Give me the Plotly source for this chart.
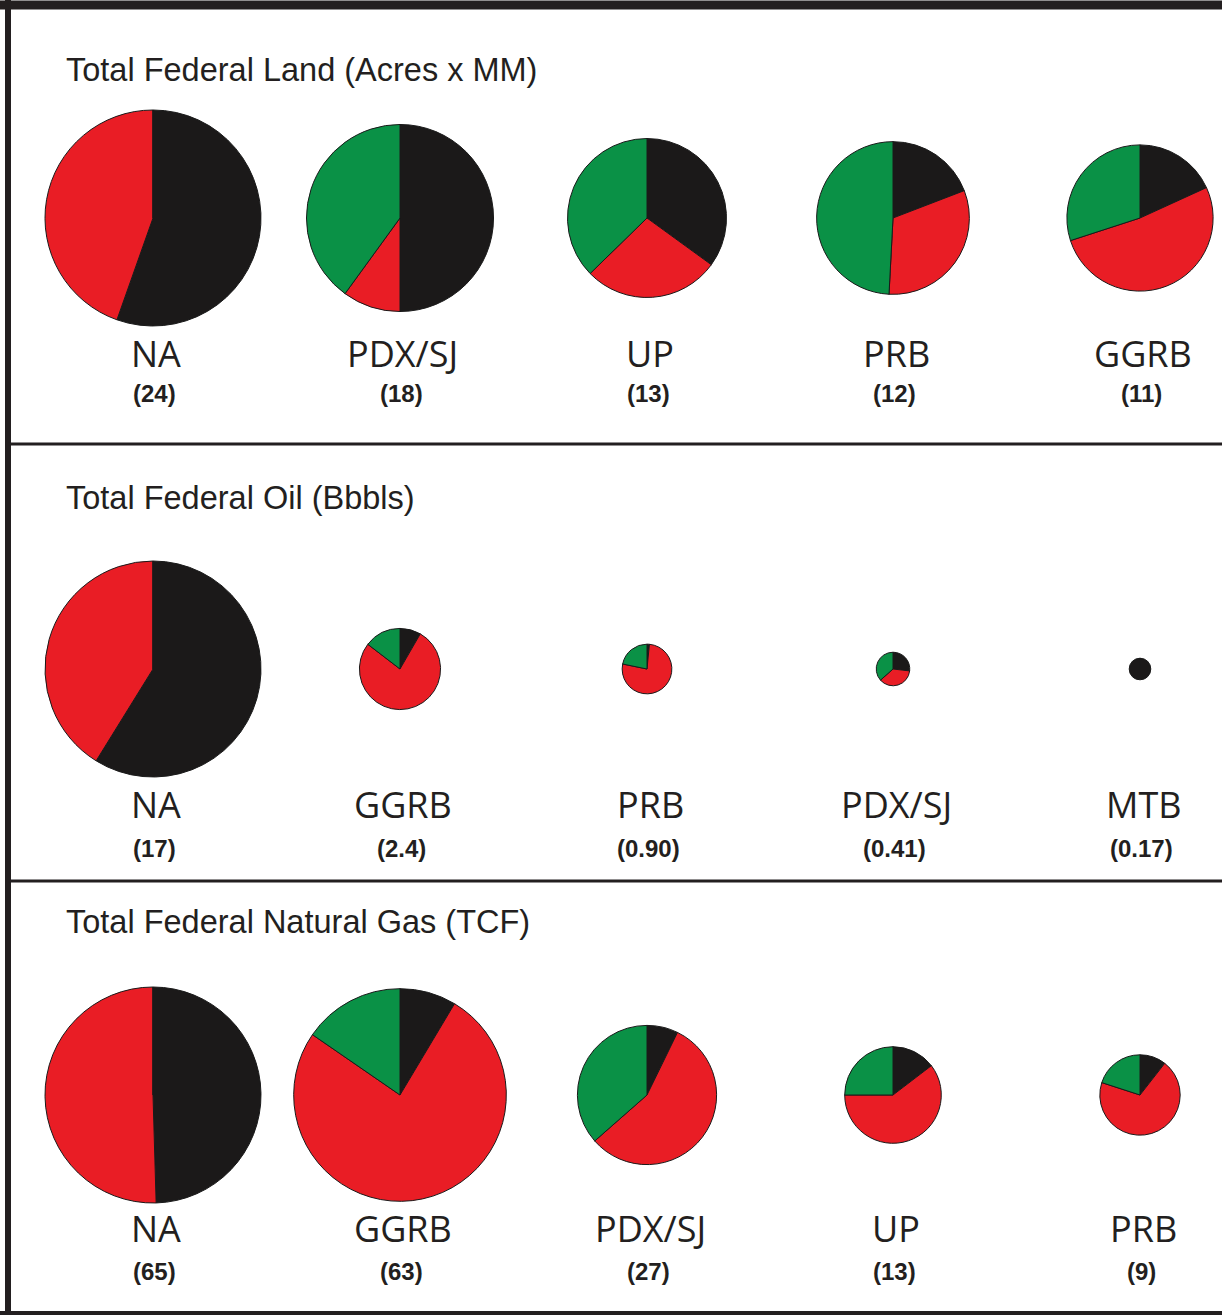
import math
import plotly.graph_objects as go

# ---------------- data ----------------
slice_names = ["Black share", "Red share", "Green share"]
slice_colors = ["#1b1919", "#e91d25", "#0a9146"]

land_title = "Total Federal Land (Acres x MM)"
land_regions = ["NA", "PDX/SJ", "UP", "PRB", "GGRB"]
land_totals = [24, 18, 13, 12, 11]
land_total_labels = ["(24)", "(18)", "(13)", "(12)", "(11)"]
land_black = [13.3, 9.0, 4.55, 2.3, 2.0]
land_red = [10.7, 1.8, 3.6, 3.8, 5.7]
land_green = [0.0, 7.2, 4.85, 5.9, 3.3]

oil_title = "Total Federal Oil (Bbbls)"
oil_regions = ["NA", "GGRB", "PRB", "PDX/SJ", "MTB"]
oil_totals = [17, 2.4, 0.90, 0.41, 0.17]
oil_total_labels = ["(17)", "(2.4)", "(0.90)", "(0.41)", "(0.17)"]
oil_black = [10.0, 0.2, 0.014, 0.11, 0.17]
oil_red = [7.0, 1.85, 0.69, 0.15, 0.0]
oil_green = [0.0, 0.35, 0.196, 0.15, 0.0]

gas_title = "Total Federal Natural Gas (TCF)"
gas_regions = ["NA", "GGRB", "PDX/SJ", "UP", "PRB"]
gas_totals = [65, 63, 27, 13, 9]
gas_total_labels = ["(65)", "(63)", "(27)", "(13)", "(9)"]
gas_black = [32.2, 5.4, 1.95, 1.9, 0.95]
gas_red = [32.8, 47.9, 15.2, 7.85, 6.25]
gas_green = [0.0, 9.7, 9.85, 3.25, 1.8]

# ---------------- layout geometry (pixels) ----------------
W, H = 1222, 1315
col_x = [153, 400, 647, 893, 1140]
max_r = 108

rows = [
    dict(title=land_title, regions=land_regions, totals=land_totals, labels=land_total_labels,
         black=land_black, red=land_red, green=land_green,
         cy=218, title_y=70, name_y=353, num_y=393),
    dict(title=oil_title, regions=oil_regions, totals=oil_totals, labels=oil_total_labels,
         black=oil_black, red=oil_red, green=oil_green,
         cy=669, title_y=498, name_y=804, num_y=848),
    dict(title=gas_title, regions=gas_regions, totals=gas_totals, labels=gas_total_labels,
         black=gas_black, red=gas_red, green=gas_green,
         cy=1095, title_y=922, name_y=1228, num_y=1271),
]

def px(x):
    return x / W

def py(y):
    return 1 - y / H

fig = go.Figure()
annotations = []

for row in rows:
    tmax = max(row["totals"])
    for i, reg in enumerate(row["regions"]):
        r = max_r * math.sqrt(row["totals"][i] / tmax)
        cx, cy = col_x[i], row["cy"]
        fig.add_trace(go.Pie(
            labels=slice_names,
            values=[row["black"][i], row["red"][i], row["green"][i]],
            marker=dict(colors=slice_colors, line=dict(color="#1a1a1a", width=1)),
            sort=False, direction="clockwise", rotation=0,
            textinfo="none", hoverinfo="label+value", showlegend=False,
            domain=dict(x=[px(cx - r), px(cx + r)], y=[py(cy + r), py(cy - r)]),
            name=reg,
        ))
        annotations.append(dict(
            x=px(cx + 3), y=py(row["name_y"]), xref="paper", yref="paper",
            text=reg, showarrow=False, xanchor="center", yanchor="middle",
            font=dict(family="Open Sans", size=36, color="#231f20"),
        ))
        annotations.append(dict(
            x=px(cx + 1), y=py(row["num_y"]), xref="paper", yref="paper",
            text="<b>" + row["labels"][i] + "</b>", showarrow=False,
            xanchor="center", yanchor="middle",
            font=dict(family="Liberation Sans", size=24, color="#231f20"),
        ))
    annotations.append(dict(
        x=px(64), y=py(row["title_y"]), xref="paper", yref="paper",
        text=row["title"], showarrow=False, xanchor="left", yanchor="middle",
        font=dict(family="Liberation Sans", size=32.5, color="#231f20"),
    ))

line_col = "#231f20"
shapes = [
    dict(type="line", xref="paper", yref="paper", x0=0, x1=1, y0=py(5), y1=py(5),
         line=dict(color=line_col, width=9)),
    dict(type="line", xref="paper", yref="paper", x0=px(8), x1=px(8), y0=py(0), y1=py(H),
         line=dict(color=line_col, width=6)),
    dict(type="line", xref="paper", yref="paper", x0=px(8), x1=1, y0=py(444), y1=py(444),
         line=dict(color=line_col, width=3)),
    dict(type="line", xref="paper", yref="paper", x0=px(8), x1=1, y0=py(881), y1=py(881),
         line=dict(color=line_col, width=3)),
    dict(type="line", xref="paper", yref="paper", x0=0, x1=1, y0=py(1313), y1=py(1313),
         line=dict(color=line_col, width=4)),
]

fig.update_layout(
    width=W, height=H,
    margin=dict(l=0, r=0, t=0, b=0),
    paper_bgcolor="white", plot_bgcolor="white",
    annotations=annotations, shapes=shapes,
    showlegend=False,
)

fig.write_html(
    "out.html",
    config={"displayModeBar": False},
    post_script="document.body.style.margin='0';document.body.style.overflow='hidden';",
)
